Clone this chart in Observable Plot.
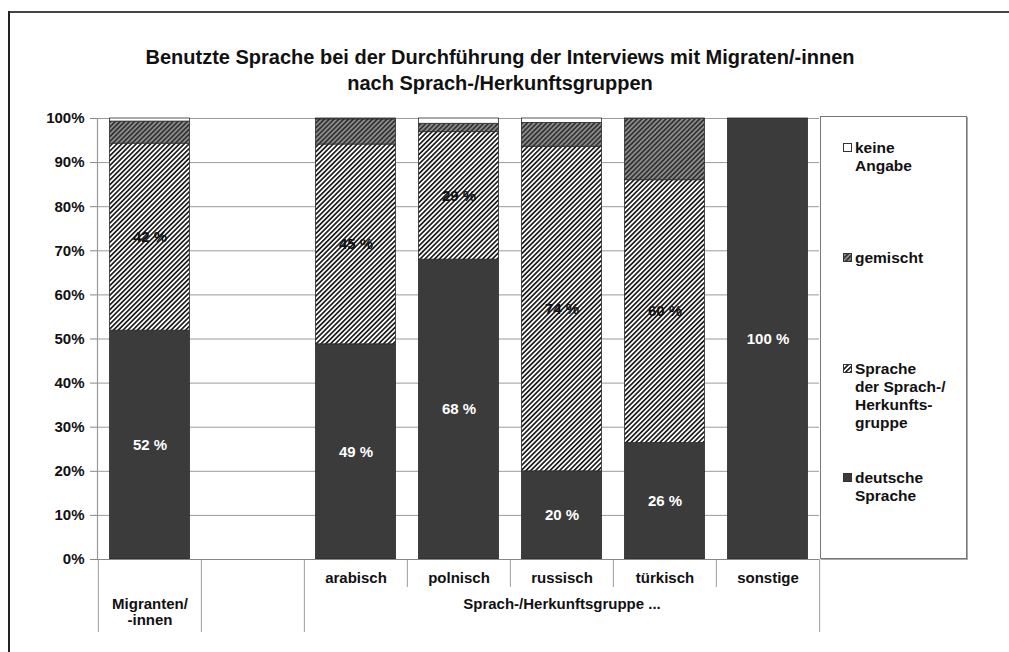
<!DOCTYPE html>
<html>
<head>
<meta charset="utf-8">
<script src="https://cdn.jsdelivr.net/npm/d3@7"></script>
<script src="https://cdn.jsdelivr.net/npm/@observablehq/plot@0.6"></script>
<style>
  html, body { margin: 0; padding: 0; background: #fff; overflow: hidden; }
  body { font-family: "Liberation Sans", Arial, sans-serif; }
  #wrap { position: relative; width: 1009px; height: 652px; overflow: hidden; }
  #frameTop { position: absolute; left: 8px; top: 11px; width: 1001px; height: 0; border-top: 2px solid #444; }
  #frameLeft { position: absolute; left: 8px; top: 11px; width: 0; height: 641px; border-left: 2px solid #222; }
  #title { position: absolute; left: 0; top: 44px; width: 1000px; text-align: center; font-weight: bold; font-size: 20px; line-height: 26px; color: #111; }
  #chart { position: absolute; left: 0; top: 0; }
  #legend { position: absolute; left: 820px; top: 116px; width: 145px; height: 441px; border: 1px solid #777; box-shadow: 1px 1px 0 #aaa; background: #fff; }
  .item { position: absolute; left: 22px; font-weight: bold; font-size: 15.5px; line-height: 18px; color: #111; white-space: nowrap; }
  .item svg { position: absolute; left: 0; top: 4px; }
  .item span { display: block; margin-left: 12px; }
</style>
</head>
<body>
<div id="wrap">
  <div id="frameTop"></div>
  <div id="frameLeft"></div>
  <div id="title">Benutzte Sprache bei der Durchführung der Interviews mit Migraten/-innen<br>nach Sprach-/Herkunftsgruppen</div>
  <div id="chart"></div>
  <div id="legend"></div>
</div>
<script>
// ---- data ----
const categories = ["Migranten/-innen", " ", "arabisch", "polnisch", "russisch", "türkisch", "sonstige"];
const groups = ["Migranten/-innen", "arabisch", "polnisch", "russisch", "türkisch", "sonstige"];
const deutsch = [51.9, 48.8, 68.0, 20.0, 26.4, 100];
const sprache = [42.4, 45.3, 28.9, 73.6, 59.6, 0];
const gemischt = [5.0, 5.7, 1.9, 5.4, 13.9, 0];
const keineAngabe = [0.7, 0.2, 1.2, 1.0, 0.1, 0];
const seriesNames = ["deutsche Sprache", "Sprache der Sprach-/Herkunftsgruppe", "gemischt", "keine Angabe"];
const legendLabels = [["keine", "Angabe"], ["gemischt"], ["Sprache", "der Sprach-/", "Herkunfts-", "gruppe"], ["deutsche", "Sprache"]];
const legendSeries = ["keine Angabe", "gemischt", "Sprache der Sprach-/Herkunftsgruppe", "deutsche Sprache"];
const yTicks = [0, 10, 20, 30, 40, 50, 60, 70, 80, 90, 100];
const level1Labels = ["arabisch", "polnisch", "russisch", "türkisch", "sonstige"];
const level2Labels = [{at: "Migranten/-innen", text: "Migranten/\n-innen"}, {at: "russisch", text: "Sprach-/Herkunftsgruppe ..."}];

// ---- build table ----
const seriesValues = [deutsch, sprache, gemischt, keineAngabe];
const table = [];
groups.forEach((g, i) => {
  let acc = 0;
  seriesValues.forEach((vals, s) => {
    const v = vals[i];
    table.push({group: g, series: seriesNames[s], value: v, y1: acc, y2: acc + v, mid: acc + v / 2});
    acc += v;
  });
});
const labelled = table.filter(d => (d.series === seriesNames[0] || d.series === seriesNames[1]) && d.value > 0);

const W = 1009, H = 652;
const mL = 97, mR = 190, mT = 118, mB = 93;
const step = (W - mL - mR) / categories.length;
const fills = {
  [seriesNames[0]]: "#3b3b3b",
  [seriesNames[1]]: "url(#hatchLight)",
  [seriesNames[2]]: "url(#hatchDark)",
  [seriesNames[3]]: "#ffffff"
};

const longB = categories.slice(0, 3);
const shortB = categories.slice(3);
const lastCat = categories[categories.length - 1];
const sepStyle = {stroke: "#aaa", strokeWidth: 1.2, insetTop: H - mT - mB};

const font = "Liberation Sans, Arial, sans-serif";
const plot = Plot.plot({
  width: W, height: H,
  marginLeft: mL, marginRight: mR, marginTop: mT, marginBottom: mB,
  style: {fontFamily: font, fontSize: "15px", fontWeight: "bold", color: "#111", background: "transparent"},
  x: {domain: categories, padding: 0, axis: null},
  y: {domain: [0, 100], axis: null},
  marks: [
    Plot.gridY(yTicks, {stroke: "#9a9a9a", strokeOpacity: 1, strokeWidth: 1}),
    Plot.frame({anchor: "left", stroke: "#999", strokeWidth: 1.2}),
    Plot.barY(table, {
      x: "group", y1: "y1", y2: "y2",
      fill: d => fills[d.series],
      stroke: "#2a2a2a", strokeWidth: 0.8,
      insetLeft: 11.5, insetRight: 11.5
    }),
    Plot.ruleX(longB, {x: d => d, dx: -step / 2, insetBottom: -73, ...sepStyle}),
    Plot.ruleX([lastCat], {x: d => d, dx: step / 2, insetBottom: -73, ...sepStyle}),
    Plot.ruleX(shortB, {x: d => d, dx: -step / 2, insetBottom: -28, ...sepStyle}),
    Plot.axisY(yTicks, {tickFormat: d => d + "%", tickSize: 7, tickPadding: 6, stroke: "#888", fontSize: 15, fontWeight: "bold", fill: "#111"}),
    Plot.ruleY([0], {stroke: "#888", strokeWidth: 1.2}),
    Plot.text(labelled, {
      x: "group", y: "mid",
      text: d => Math.round(d.value) + " %",
      fill: d => d.series === seriesNames[0] ? "#fff" : "#111",
      fontSize: 15, fontWeight: "bold"
    }),
    Plot.text(level1Labels, {x: d => d, frameAnchor: "bottom", lineAnchor: "middle", dy: 19, fontSize: 15, fontWeight: "bold", fill: "#111"}),
    Plot.text(level2Labels, {x: "at", text: "text", frameAnchor: "bottom", lineAnchor: "top", dy: 38, fontSize: 15, fontWeight: "bold", fill: "#111", lineHeight: 1.07})
  ]
});
// hatch patterns
plot.insertAdjacentHTML("afterbegin", `
<defs>
  <pattern id="hatchLight" patternUnits="userSpaceOnUse" width="3.4" height="3.4" patternTransform="rotate(45)">
    <rect width="3.4" height="3.4" fill="#fff"/>
    <line x1="0.85" y1="-1" x2="0.85" y2="5" stroke="#1e1e1e" stroke-width="1.7"/>
  </pattern>
  <pattern id="hatchDark" patternUnits="userSpaceOnUse" width="3.4" height="3.4" patternTransform="rotate(45)">
    <rect width="3.4" height="3.4" fill="#8c8c8c"/>
    <line x1="0.85" y1="-1" x2="0.85" y2="5" stroke="#2e2e2e" stroke-width="1.6"/>
  </pattern>
</defs>`);
document.getElementById("chart").appendChild(plot);

// legend
const tops = [138, 248, 359, 468];
const legend = document.getElementById("legend");
legendSeries.forEach((s, i) => {
  const div = document.createElement("div");
  div.className = "item";
  div.style.top = (tops[i] - 116) + "px";
  const sw = `<svg width="10" height="10"><rect x="0.5" y="0.5" width="8" height="8" fill="${fills[s]}" stroke="#333" stroke-width="1"/></svg>`;
  div.innerHTML = sw + legendLabels[i].map(t => `<span>${t}</span>`).join("");
  legend.appendChild(div);
});
</script>
</body>
</html>
